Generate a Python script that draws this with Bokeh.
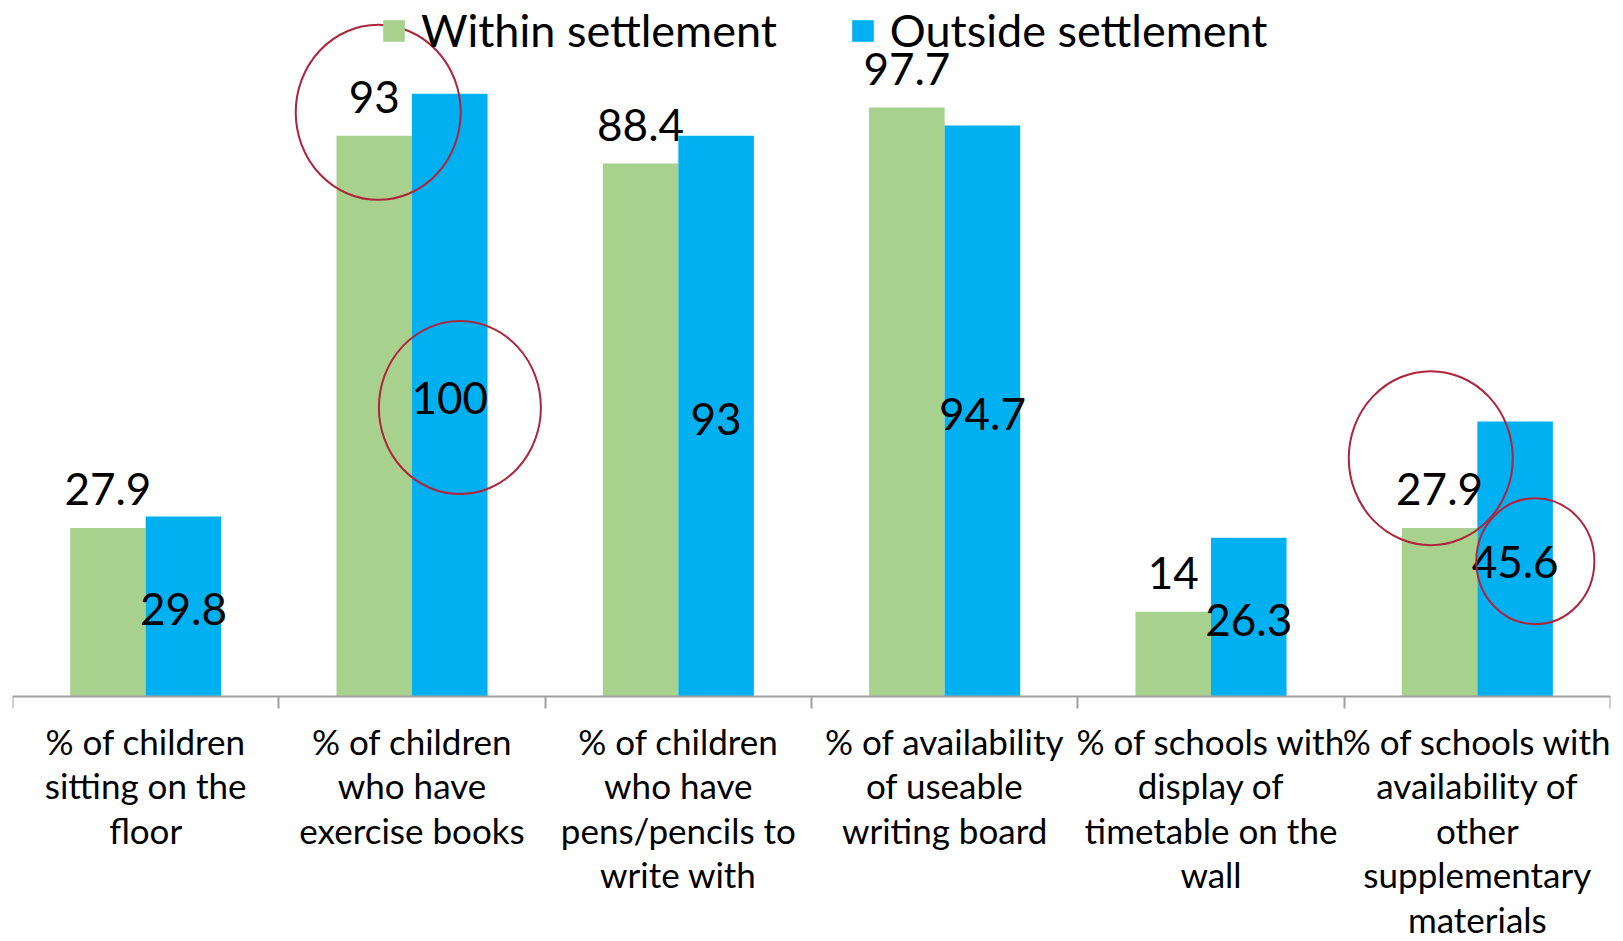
from bokeh.plotting import figure
from bokeh.models import Range1d, FixedTicker, Legend, LegendItem, ColumnDataSource
from bokeh.core.properties import value
from bokeh.embed import file_html
from bokeh.resources import INLINE

# ---- data ----
categories = [
    "% of children\nsitting on the\nfloor",
    "% of children\nwho have\nexercise books",
    "% of children\nwho have\npens/pencils to\nwrite with",
    "% of availability\nof useable\nwriting board",
    "% of schools with\ndisplay of\ntimetable on the\nwall",
    "% of schools with\navailability of\nother\nsupplementary\nmaterials",
]
series_names = ["Within settlement", "Outside settlement"]
within = [27.9, 93, 88.4, 97.7, 14, 27.9]
outside = [29.8, 100, 93, 94.7, 26.3, 45.6]

# hand-drawn highlight circles around some value labels: (series index, category index)
highlights = [(0, 1), (1, 1), (0, 5), (1, 5)]

# ---- styles ----
FONT = "Lato"
GREEN = "#A9D18E"
BLUE = "#00B0F0"
RED = "#B0243C"
AXIS = "#A0A0A0"
BAR_W = 0.2836
# offsets (data units) and sizes (px) of the highlight circles
hl_style = [(0.015, 3.9, 165, 175), (0.038, -2.1, 162, 173),
            (-0.033, 11.6, 164, 174), (0.076, -0.4, 118, 126)]

n = len(categories)
centers = [i + 0.5 for i in range(n)]
xw = [c - BAR_W / 2 for c in centers]
xo = [c + BAR_W / 2 for c in centers]

# frame covers the whole canvas height; the category axis sits at value 0
p = figure(width=1623, height=941, output_backend="svg", toolbar_location=None,
           x_range=Range1d(0, n), y_range=Range1d(-40.74, 115.47),
           min_border_left=12, min_border_right=13, min_border_top=0,
           min_border_bottom=0)
p.outline_line_color = None
p.grid.visible = False
p.yaxis.visible = False
p.background_fill_color = "white"

src_w = ColumnDataSource(dict(x=xw, top=within, lab=[f"{v:g}" for v in within]))
src_o = ColumnDataSource(dict(x=xo, top=outside, mid=[v / 2 for v in outside],
                              lab=[f"{v:g}" for v in outside]))

r_w = p.vbar(x="x", top="top", width=BAR_W, bottom=0, source=src_w,
             fill_color=GREEN, line_color=None)
r_o = p.vbar(x="x", top="top", width=BAR_W, bottom=0, source=src_o,
             fill_color=BLUE, line_color=None)

p.text(x="x", y="top", text="lab", source=src_w, text_font=value(FONT),
       text_font_size="44px", text_align="center", text_baseline="middle",
       y_offset=-39, text_color="black")
p.text(x="x", y="mid", text="lab", source=src_o, text_font=value(FONT),
       text_font_size="44px", text_align="center", text_baseline="middle",
       y_offset=3, text_color="black")

# highlight circles
hx, hy, hwid, hhei = [], [], [], []
for (s, c), (dx, dy, w, h) in zip(highlights, hl_style):
    if s == 0:
        hx.append(xw[c] + dx)
        hy.append(within[c] + dy)
    else:
        hx.append(xo[c] + dx)
        hy.append(outside[c] / 2 + dy)
    hwid.append(w)
    hhei.append(h)
p.ellipse(x=hx, y=hy, width=hwid, height=hhei, width_units="screen",
          height_units="screen", fill_color=None, line_color=RED, line_width=2)

# axis: tick marks at category boundaries, category names centred below
ax = p.xaxis[0]
ax.fixed_location = 0
ax.ticker = FixedTicker(ticks=centers, minor_ticks=list(range(n + 1)))
ax.major_label_overrides = {c: lab for c, lab in zip(centers, categories)}
ax.major_tick_out = 0
ax.major_tick_in = 0
ax.minor_tick_out = 12
ax.minor_tick_in = 0
ax.minor_tick_line_color = AXIS
ax.minor_tick_line_width = 2
ax.axis_line_color = AXIS
ax.axis_line_width = 2
ax.major_label_text_font = FONT
ax.major_label_text_font_size = "35px"
ax.major_label_text_line_height = 1.057
ax.major_label_text_color = "black"
ax.major_label_standoff = 12

legend = Legend(items=[LegendItem(label=series_names[0], renderers=[r_w]),
                       LegendItem(label=series_names[1], renderers=[r_o])],
                orientation="horizontal", location=(368, 884),
                label_text_font=FONT, label_text_font_size="45px",
                label_text_color="black",
                glyph_width=27, glyph_height=27, label_standoff=14, spacing=72,
                padding=0, margin=0, border_line_color=None,
                background_fill_alpha=0)
p.add_layout(legend)

open("out.html", "w").write(file_html(p, INLINE))
